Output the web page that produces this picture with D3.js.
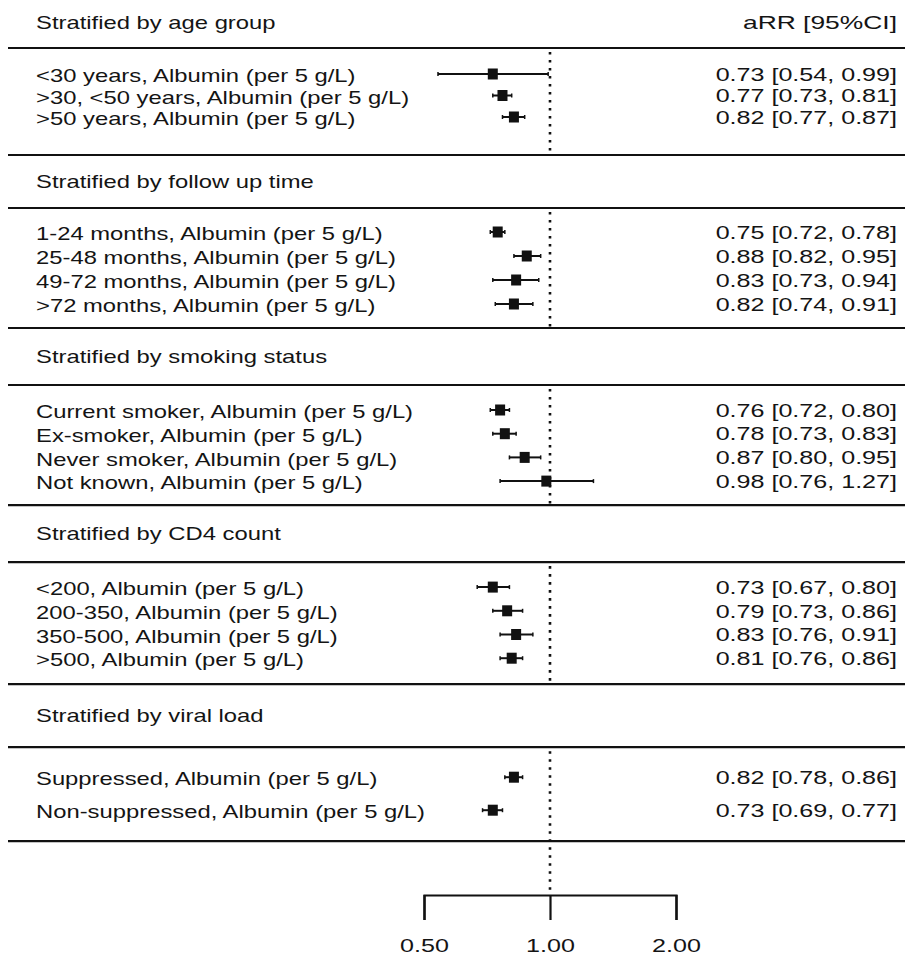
<!DOCTYPE html>
<html>
<head>
<meta charset="utf-8">
<script src="https://cdn.jsdelivr.net/npm/d3@7"></script>
<style>
  body { margin: 0; background: #fff; }
  text { font-family: "Liberation Sans", Arial, sans-serif; fill: #141414; }
</style>
</head>
<body>
<svg id="chart"></svg>
<script>
// ---- data ----
const groupTitles = [
    'Stratified by age group',
    'Stratified by follow up time',
    'Stratified by smoking status',
    'Stratified by CD4 count',
    'Stratified by viral load'
];
const rowGroup = [0, 0, 0, 1, 1, 1, 1, 2, 2, 2, 2, 3, 3, 3, 3, 4, 4];
const rowLabels = [
    '<30 years, Albumin (per 5 g/L)',
    '>30, <50 years, Albumin (per 5 g/L)',
    '>50 years, Albumin (per 5 g/L)',
    '1-24 months, Albumin (per 5 g/L)',
    '25-48 months, Albumin (per 5 g/L)',
    '49-72 months, Albumin (per 5 g/L)',
    '>72 months, Albumin (per 5 g/L)',
    'Current smoker, Albumin (per 5 g/L)',
    'Ex-smoker, Albumin (per 5 g/L)',
    'Never smoker, Albumin (per 5 g/L)',
    'Not known, Albumin (per 5 g/L)',
    '<200, Albumin (per 5 g/L)',
    '200-350, Albumin (per 5 g/L)',
    '350-500, Albumin (per 5 g/L)',
    '>500, Albumin (per 5 g/L)',
    'Suppressed, Albumin (per 5 g/L)',
    'Non-suppressed, Albumin (per 5 g/L)'
];
const estimate = [0.73, 0.77, 0.82, 0.75, 0.88, 0.83, 0.82, 0.76, 0.78, 0.87, 0.98, 0.73, 0.79, 0.83, 0.81, 0.82, 0.73];
const lower    = [0.54, 0.73, 0.77, 0.72, 0.82, 0.73, 0.74, 0.72, 0.73, 0.80, 0.76, 0.67, 0.73, 0.76, 0.76, 0.78, 0.69];
const upper    = [0.99, 0.81, 0.87, 0.78, 0.95, 0.94, 0.91, 0.80, 0.83, 0.95, 1.27, 0.80, 0.86, 0.91, 0.86, 0.86, 0.77];
const axisTicks = [0.5, 1, 2];
const columnHeader = 'aRR [95%CI]';

// ---- layout (spacing of the table, not data) ----
const layout = {
    width: 905,
    height: 960,
    top: 48,                              // first rule under the column header
    headerBand: [53, 57, 57, 63],         // space for the titles of groups 2..5
    padTop: [26, 24, 25, 25, 30],
    step: [21.5, 24, 23.7, 23.7, 33],
    padBottom: [38, 24, 24, 26, 31],
    axisY: 895,
    tickLen: 25,
    labelX: 36,
    valueX: 897,
    fontSize: 18.6,
    stretchLeft: 1.28,                    // the source image is stretched horizontally
    stretchRight: 1.35,
    stretchHeader: 1.42,
    box: {w: 10, h: 11}
};

const fmt = d3.format('.2f');

const svg = d3.select('#chart')
    .attr('width', layout.width)
    .attr('height', layout.height);

const x = d3.scaleLog()
    .domain([0.5, 2])
    .range([424, 676]);

// Work out the vertical extent of each group body and a point scale for its rows
let cursor = layout.top;
const bodies = groupTitles.map((title, g) => {
    const headerTop = cursor;
    if (g > 0) cursor += layout.headerBand[g - 1];
    const idx = d3.range(rowLabels.length).filter(i => rowGroup[i] === g);
    const first = cursor + layout.padTop[g];
    const last = first + layout.step[g] * (idx.length - 1);
    const yScale = d3.scalePoint().domain(idx).range([first, last]);
    const body = {
        g: g,
        title: title,
        top: cursor,
        bottom: last + layout.padBottom[g],
        headerY: g === 0 ? layout.top - 26 : (headerTop + cursor) / 2 - 0.5,
        idx: idx,
        yScale: yScale
    };
    cursor = body.bottom;
    return body;
});

function stretchedText(sel, px, py, sx, anchor) {
    return sel.append('text')
        .attr('transform', `translate(${px},${py}) scale(${sx},1)`)
        .attr('dy', '0.36em')
        .attr('text-anchor', anchor)
        .style('font-size', layout.fontSize + 'px');
}

// Horizontal rules
const ruleYs = [];
bodies.forEach(b => { ruleYs.push(b.top, b.bottom); });
svg.append('g').selectAll('line')
    .data(ruleYs)
    .join('line')
        .attr('x1', 8)
        .attr('x2', layout.width)
        .attr('y1', d => d)
        .attr('y2', d => d)
        .attr('stroke', '#111')
        .attr('stroke-width', 2.2);

// Dotted reference line at 1 (inside each group body, then down to the axis)
svg.append('g').selectAll('line')
    .data(bodies)
    .join('line')
        .attr('x1', x(1))
        .attr('x2', x(1))
        .attr('y1', d => d.top + 4)
        .attr('y2', (d, i) => i === bodies.length - 1 ? layout.axisY - 4 : d.bottom)
        .attr('stroke', '#111')
        .attr('stroke-width', 2.6)
        .attr('stroke-dasharray', '2.6,5.4');

// Titles and column header
const titleG = svg.append('g');
bodies.forEach(b => {
    stretchedText(titleG, layout.labelX, b.headerY, layout.stretchLeft, 'start').text(b.title);
});
stretchedText(titleG, layout.valueX, bodies[0].headerY, layout.stretchHeader, 'end').text(columnHeader);

// Rows
const rowsG = svg.append('g');
bodies.forEach(b => {
    b.idx.forEach(i => {
        const y = b.yScale(i);
        stretchedText(rowsG, layout.labelX, y + 1.5, layout.stretchLeft, 'start').text(rowLabels[i]);
        stretchedText(rowsG, layout.valueX, y, layout.stretchRight, 'end')
            .text(`${fmt(estimate[i])} [${fmt(lower[i])}, ${fmt(upper[i])}]`);

        // confidence interval
        rowsG.append('line')
            .attr('x1', x(lower[i]))
            .attr('x2', x(upper[i]))
            .attr('y1', y)
            .attr('y2', y)
            .attr('stroke', '#111')
            .attr('stroke-width', 2);
        rowsG.selectAll(null)
            .data([lower[i], upper[i]])
            .join('line')
                .attr('x1', d => x(d))
                .attr('x2', d => x(d))
                .attr('y1', y - 2)
                .attr('y2', y + 2)
                .attr('stroke', '#111')
                .attr('stroke-width', 1.5);

        // point estimate
        rowsG.append('rect')
            .attr('x', x(estimate[i]) - layout.box.w / 2)
            .attr('y', y - layout.box.h / 2)
            .attr('width', layout.box.w)
            .attr('height', layout.box.h)
            .attr('fill', '#111');
    });
});

// Bottom axis
const axisG = svg.append('g')
    .attr('transform', `translate(0,${layout.axisY})`)
    .call(d3.axisBottom(x)
        .tickValues(axisTicks)
        .tickFormat(fmt)
        .tickSize(layout.tickLen)
        .tickPadding(19));

axisG.select('.domain')
    .attr('stroke', '#111')
    .attr('stroke-width', 2.2);
axisG.selectAll('.tick line')
    .attr('stroke', '#111')
    .attr('stroke-width', 2.2);
axisG.selectAll('.tick text')
    .attr('transform', `scale(${layout.stretchRight},1)`)
    .attr('fill', '#141414')
    .style('font-family', '"Liberation Sans", Arial, sans-serif')
    .style('font-size', layout.fontSize + 'px');
</script>
</body>
</html>
